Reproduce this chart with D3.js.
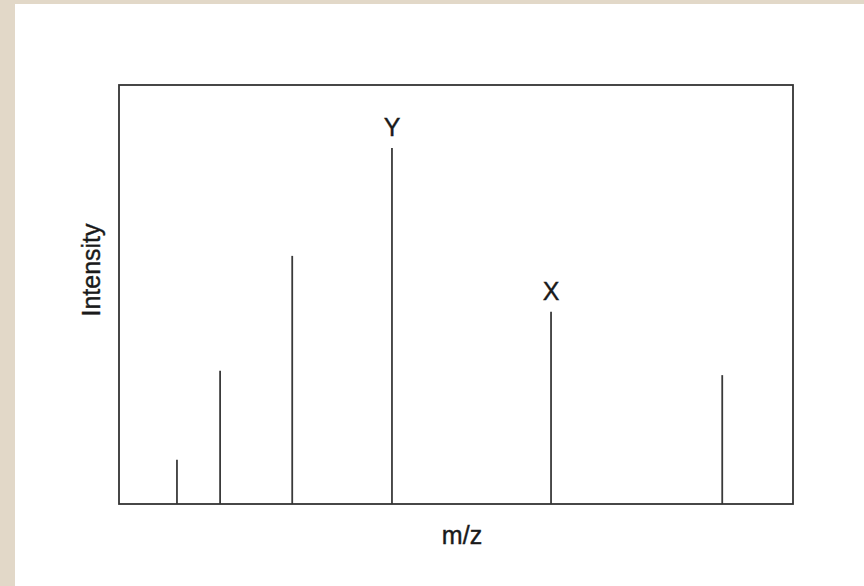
<!DOCTYPE html>
<html>
<head>
<meta charset="utf-8">
<script src="https://cdn.jsdelivr.net/npm/d3@7"></script>
<style>
  html, body { margin: 0; padding: 0; background: #e2d8c8; }
  svg { display: block; }
</style>
</head>
<body>
<div id="chart"></div>
<script>
// peaks of the spectrum (m/z position in arbitrary units, relative intensity)
const mzValues = [8.6, 15.0, 25.7, 40.5, 64.1, 89.5];
const intensities = [12.4, 37.4, 69.7, 100, 54, 36.2];
const peakLabels = ["", "", "", "Y", "X", ""];

const xTitle = "m/z";
const yTitle = "Intensity";

const width = 864, height = 586;
const margin = { top: 85, right: 71, bottom: 82, left: 119 };
const font = "Liberation Sans, Arial, sans-serif";

const svg = d3.select("#chart")
  .append("svg")
  .attr("width", width)
  .attr("height", height);

// beige border on top and left, white page
svg.append("rect")
  .attr("width", width).attr("height", height)
  .attr("fill", "#e2d8c8");
svg.append("rect")
  .attr("x", 15).attr("y", 4)
  .attr("width", width - 15).attr("height", height - 4)
  .attr("fill", "#ffffff");

const x = d3.scaleLinear()
  .domain([0, 100])
  .range([margin.left, width - margin.right]);

const y = d3.scaleLinear()
  .domain([0, 117.7])
  .range([height - margin.bottom, margin.top]);

const peaks = mzValues.map((m, i) => ({ mz: m, v: intensities[i], label: peakLabels[i] }));

// sticks
svg.append("g")
  .selectAll("line")
  .data(peaks)
  .enter().append("line")
  .attr("x1", d => x(d.mz))
  .attr("x2", d => x(d.mz))
  .attr("y1", y(0))
  .attr("y2", d => y(d.v))
  .attr("stroke", "#3a3a3a")
  .attr("stroke-width", 1.8);

// text helper, slightly heavier than plain to match the scan
const addText = (sel) => sel
  .attr("font-family", font)
  .attr("font-size", 25)
  .attr("fill", "#1a1a1a")
  .attr("stroke", "#1a1a1a")
  .attr("stroke-width", 0.4);

// peak labels
svg.append("g")
  .selectAll("text")
  .data(peaks.filter(d => d.label))
  .enter().append("text")
  .attr("x", d => x(d.mz))
  .attr("y", d => y(d.v) - 12)
  .attr("text-anchor", "middle")
  .call(addText)
  .text(d => d.label);

// plot frame
svg.append("rect")
  .attr("x", x.range()[0])
  .attr("y", y.range()[1])
  .attr("width", x.range()[1] - x.range()[0])
  .attr("height", y.range()[0] - y.range()[1])
  .attr("fill", "none")
  .attr("stroke", "#333")
  .attr("stroke-width", 1.8);

// axis titles
svg.append("text")
  .attr("x", 462)
  .attr("y", 544)
  .attr("text-anchor", "middle")
  .call(addText)
  .text(xTitle);

svg.append("text")
  .attr("transform", "translate(100,270) rotate(-90)")
  .attr("text-anchor", "middle")
  .call(addText)
  .text(yTitle);
</script>
</body>
</html>
